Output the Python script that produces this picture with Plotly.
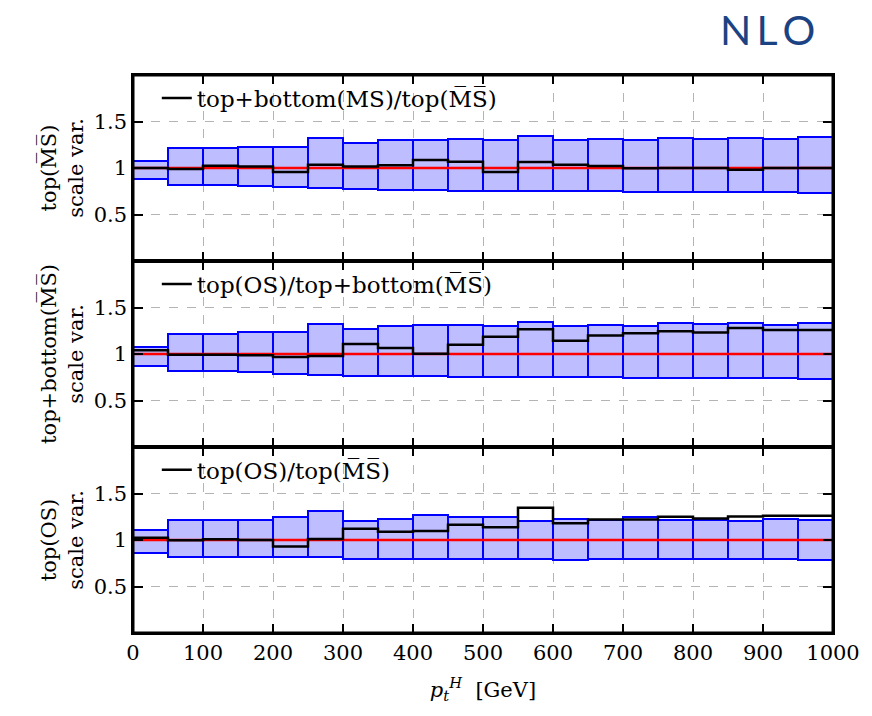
import plotly.graph_objects as go
from plotly.subplots import make_subplots

# Bins em pT (GeV)
bordas = list(range(0, 1001, 50))
centros = [b + 25 for b in bordas[:-1]]

# Painel 1: top+bottom(MS)/top(MSbar)
p1_sup = [1.08, 1.21, 1.22, 1.23, 1.225, 1.325, 1.27, 1.30, 1.305, 1.315,
          1.30, 1.345, 1.30, 1.315, 1.30, 1.325, 1.31, 1.32, 1.31, 1.33]
p1_inf = [0.88, 0.82, 0.815, 0.805, 0.795, 0.785, 0.775, 0.76, 0.76, 0.75,
          0.75, 0.75, 0.75, 0.75, 0.74, 0.74, 0.74, 0.74, 0.74, 0.73]
p1_razao = [1.0, 0.99, 1.025, 1.015, 0.957, 1.036, 1.015, 1.03, 1.086, 1.068,
            0.957, 1.064, 1.036, 1.021, 0.997, 1.0, 1.0, 0.98, 1.0, 1.0]

# Painel 2: top(OS)/top+bottom(MSbar)
p2_sup = [1.08, 1.21, 1.22, 1.235, 1.235, 1.325, 1.265, 1.297, 1.31, 1.315,
          1.297, 1.348, 1.30, 1.315, 1.297, 1.33, 1.32, 1.33, 1.315, 1.337]
p2_inf = [0.875, 0.82, 0.82, 0.805, 0.79, 0.775, 0.767, 0.76, 0.76, 0.753,
          0.753, 0.753, 0.753, 0.753, 0.742, 0.742, 0.742, 0.742, 0.742, 0.73]
p2_razao = [1.04, 0.993, 0.993, 0.986, 0.968, 0.978, 1.107, 1.065, 1.004, 1.10,
            1.186, 1.265, 1.143, 1.20, 1.222, 1.244, 1.23, 1.28, 1.258, 1.258]

# Painel 3: top(OS)/top(MSbar)
p3_sup = [1.107, 1.214, 1.214, 1.214, 1.246, 1.31, 1.204, 1.229, 1.264, 1.243,
          1.25, 1.204, 1.225, 1.214, 1.243, 1.218, 1.214, 1.207, 1.229, 1.21]
p3_inf = [0.86, 0.814, 0.814, 0.814, 0.814, 0.814, 0.796, 0.796, 0.796, 0.796,
          0.796, 0.796, 0.79, 0.8, 0.796, 0.796, 0.796, 0.796, 0.796, 0.79]
p3_razao = [1.025, 0.996, 1.007, 1.0, 0.929, 1.01, 1.12, 1.09, 1.096, 1.164,
            1.136, 1.346, 1.18, 1.221, 1.221, 1.25, 1.232, 1.254, 1.26, 1.26]

MSBAR = "M\u0305S\u0305"
legendas = [
    f"top+bottom(MS)/top({MSBAR})",
    f"top(OS)/top+bottom({MSBAR})",
    f"top(OS)/top({MSBAR})",
]
titulos_y = [
    f"top({MSBAR})<br>scale var.",
    f"top+bottom({MSBAR})<br>scale var.",
    "top(OS)<br>scale var.",
]

paineis = [
    (p1_sup, p1_inf, p1_razao),
    (p2_sup, p2_inf, p2_razao),
    (p3_sup, p3_inf, p3_razao),
]

FONTE = "DejaVu Serif"

fig = make_subplots(rows=3, cols=1, shared_xaxes=True, vertical_spacing=0)

for i, (sup, inf, razao) in enumerate(paineis):
    row = i + 1
    # Banda de variação de escala (retângulos por bin)
    fig.add_trace(
        go.Bar(
            x=centros,
            y=[s - l for s, l in zip(sup, inf)],
            base=inf,
            width=50,
            marker=dict(color="rgba(0,0,255,0.26)", line=dict(color="#0000ff", width=2)),
            showlegend=False,
        ),
        row=row, col=1,
    )
    # Linha de referência em 1
    fig.add_trace(
        go.Scatter(x=[0, 1000], y=[1, 1], mode="lines",
                   line=dict(color="#ff0000", width=2.5), showlegend=False),
        row=row, col=1,
    )
    # Razão (histograma em degraus)
    fig.add_trace(
        go.Scatter(
            x=bordas,
            y=razao + [razao[-1]],
            mode="lines",
            line=dict(color="black", width=2.5, shape="hv"),
            name=legendas[i],
            showlegend=True,
            legend="legend" if i == 0 else f"legend{i + 1}",
        ),
        row=row, col=1,
    )

fig.update_layout(barmode="overlay", bargap=0)

fig.update_xaxes(
    range=[0, 1000],
    dtick=100,
    ticks="inside",
    ticklen=9,
    tickwidth=2,
    tickcolor="black",
    showline=True,
    linecolor="black",
    linewidth=1.5,
    mirror="allticks",
    showgrid=True,
    gridcolor="#b4b4b4",
    griddash="dash",
    gridwidth=1,
    zeroline=False,
    tickfont=dict(family=FONTE, size=21, color="black"),
)
fig.update_xaxes(
    title=dict(text="<i>p</i><sub><i>t</i></sub><sup><i>H</i></sup>  [GeV]",
               font=dict(family=FONTE, size=21, color="black"), standoff=18),
    row=3, col=1,
)

fig.update_yaxes(
    range=[0, 2],
    tickvals=[0.5, 1, 1.5],
    ticktext=["0.5", "1", "1.5"],
    ticks="inside",
    ticklen=10,
    tickwidth=2,
    tickcolor="black",
    showline=True,
    linecolor="black",
    linewidth=1.5,
    mirror="allticks",
    showgrid=True,
    gridcolor="#b4b4b4",
    griddash="dash",
    gridwidth=1,
    zeroline=False,
    tickfont=dict(family=FONTE, size=21, color="black"),
)
for i, t in enumerate(titulos_y):
    fig.update_yaxes(
        title=dict(text=t, font=dict(family=FONTE, size=21, color="black"), standoff=4),
        row=i + 1, col=1,
    )

# Legendas dentro de cada painel
leg_base = dict(
    x=0.034, xanchor="left", yanchor="top",
    bgcolor="rgba(0,0,0,0)", borderwidth=0,
    font=dict(family=FONTE, size=23, color="black"),
    itemwidth=30,
)
fig.update_layout(
    legend=dict(leg_base, y=0.997),
    legend2=dict(leg_base, y=0.664),
    legend3=dict(leg_base, y=0.331),
)

# Moldura externa mais grossa
fig.add_shape(type="rect", xref="paper", yref="paper", x0=0, x1=1, y0=0, y1=1,
              line=dict(color="black", width=3), layer="above")

# Logo NLO
fig.add_annotation(
    text="N\u2009L\u2009O", x=0.906, y=1.081, xref="paper", yref="paper", showarrow=False,
    xanchor="center", yanchor="middle",
    font=dict(family="Lato", size=41, color="#1b4383"),
)

# A página tem margem de 8px no body: compensa nas margens
fig.update_layout(
    width=864,
    height=708,
    margin=dict(l=125, r=39, t=67, b=83),
    plot_bgcolor="white",
    paper_bgcolor="white",
    font=dict(family=FONTE, color="black"),
)

fig.write_html("out.html")
